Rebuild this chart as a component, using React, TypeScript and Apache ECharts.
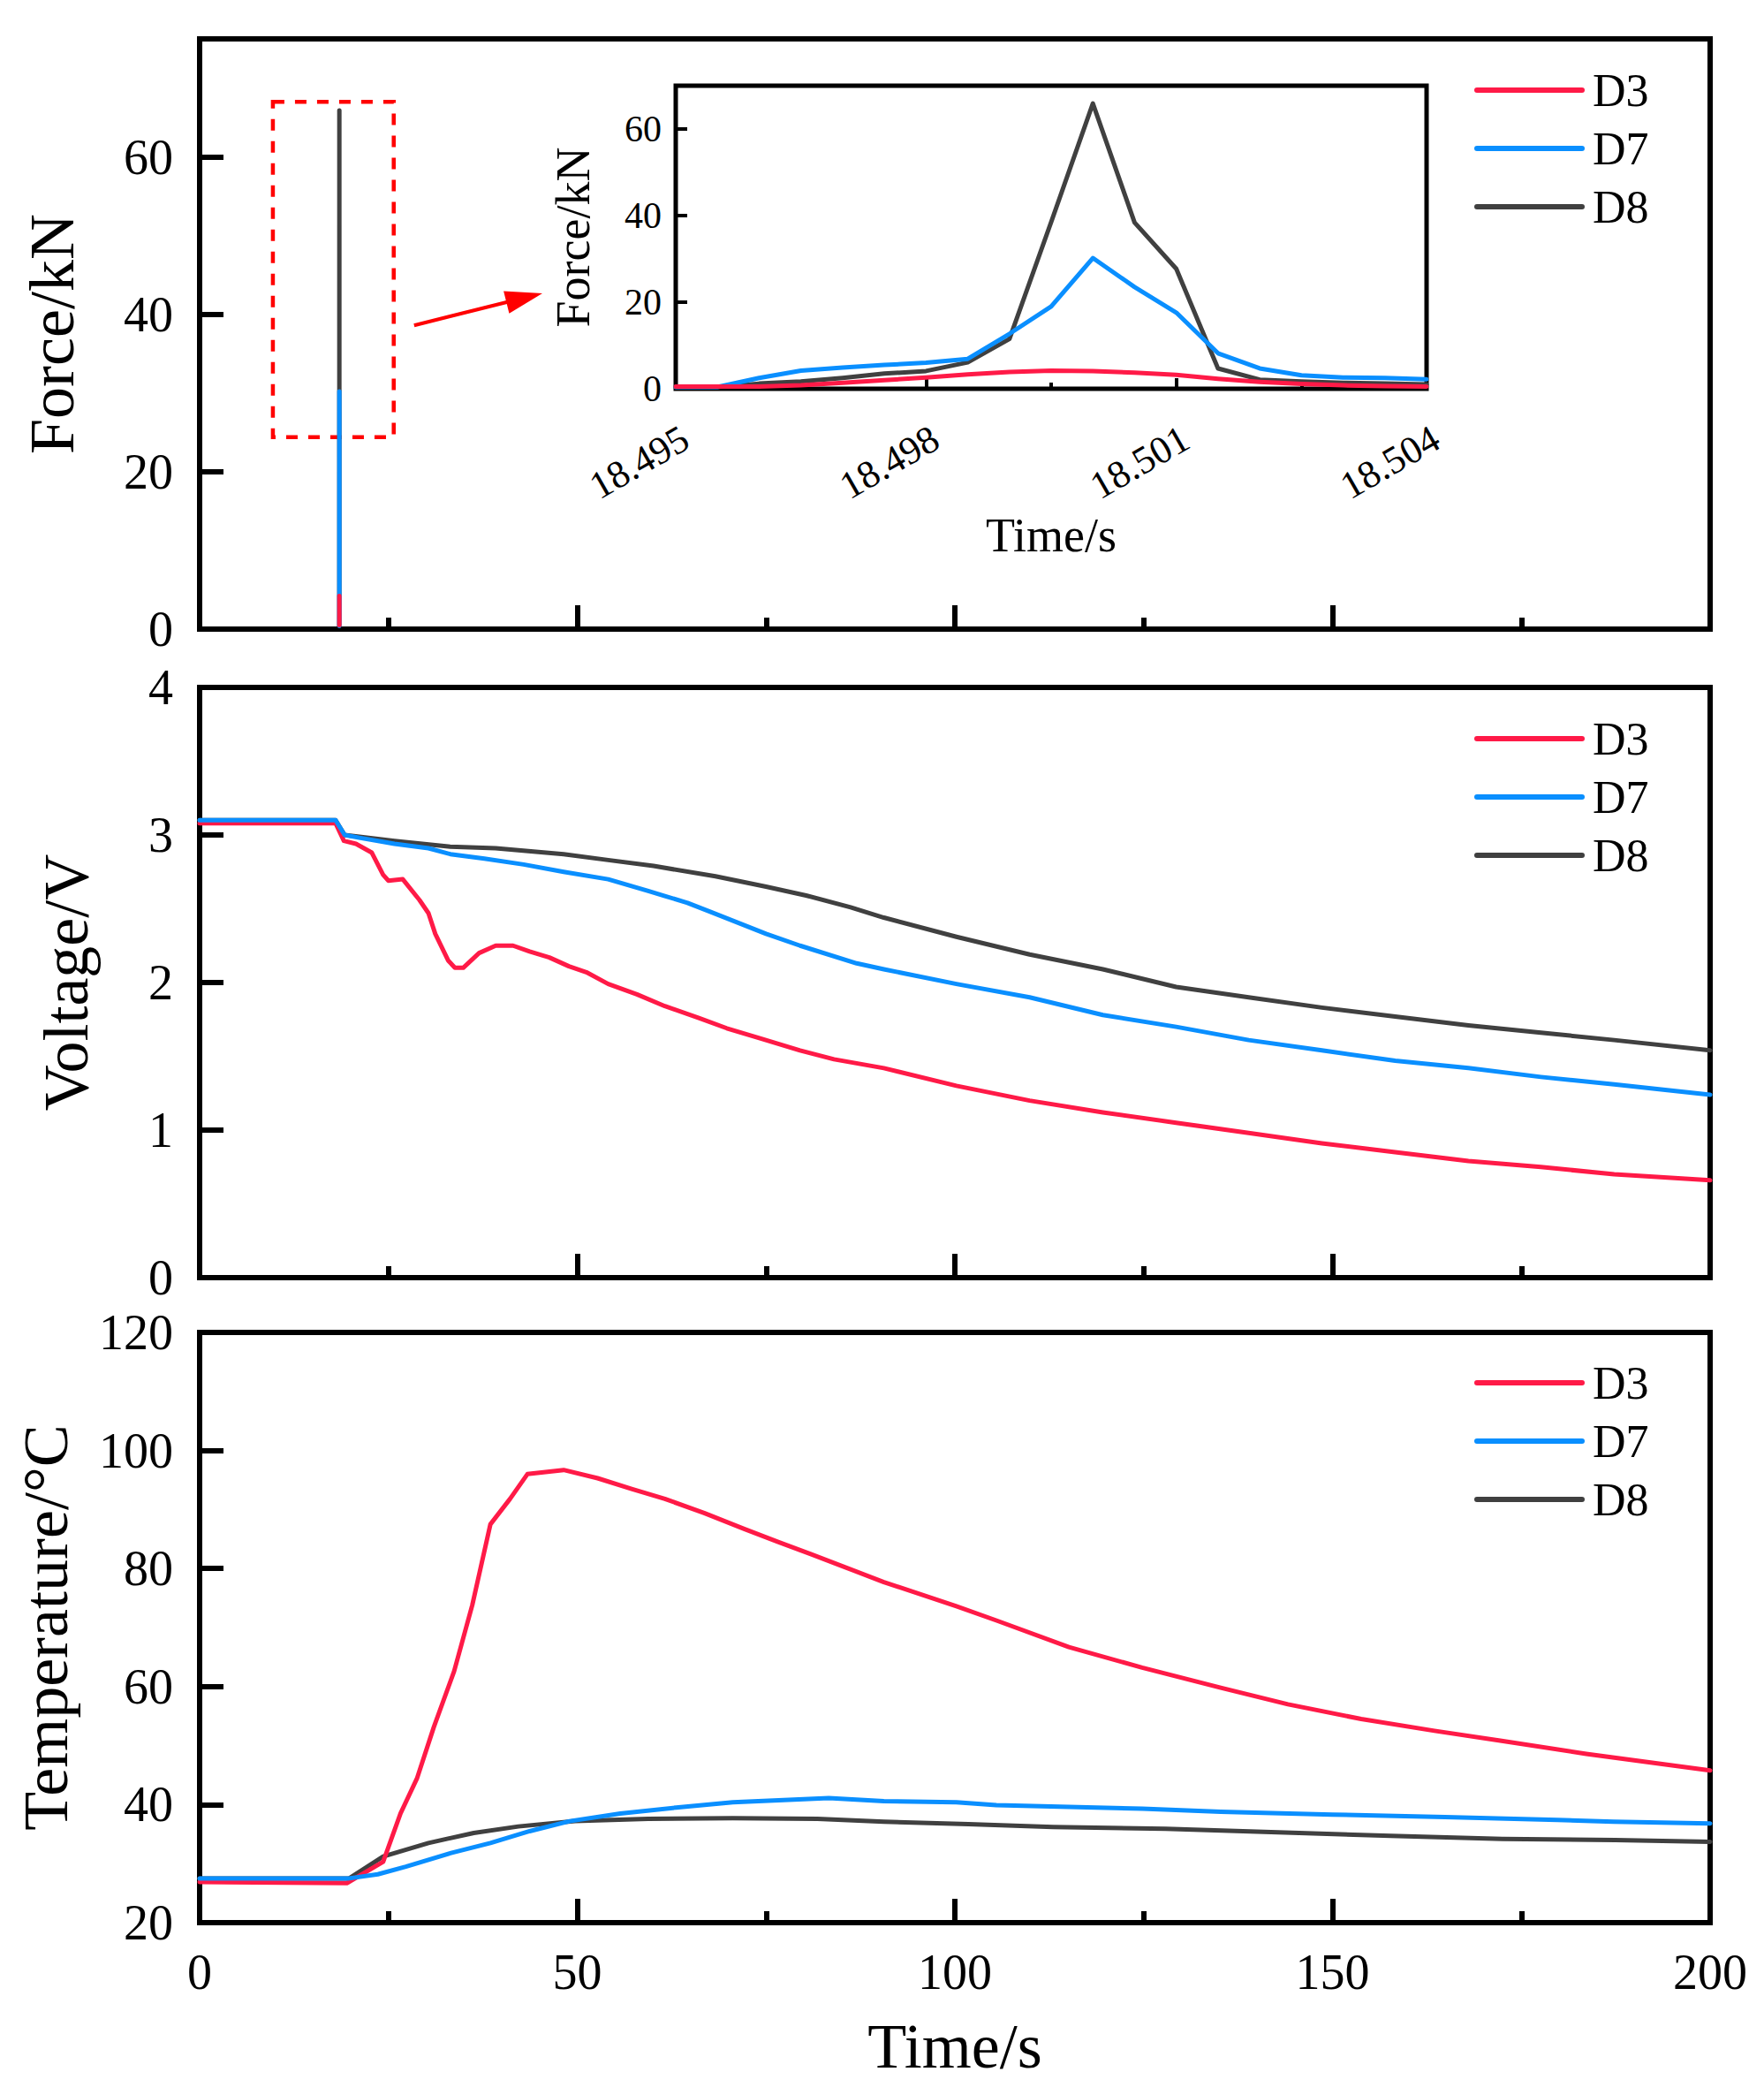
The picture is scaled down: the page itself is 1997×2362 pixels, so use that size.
import React, { useEffect, useRef } from "react";
import * as echarts from "echarts";

const FONT = "'Liberation Serif', 'Times New Roman', serif";
const NAMES = ["D3", "D7", "D8"];
const COLOR: Record<string, string> = { D3: "#FF1A47", D7: "#0A8FFF", D8: "#404040" };

// Impact force around the hit (s, kN)
const forceTime = [
  18.495, 18.4955, 18.496, 18.4965, 18.497, 18.4975, 18.498, 18.4985, 18.499, 18.4995,
  18.5, 18.5005, 18.501, 18.5015, 18.502, 18.5025, 18.503, 18.5035, 18.504,
];
const forceD3 = [0.5, 0.5, 0.5, 0.8, 1.4, 2.0, 2.6, 3.3, 3.9, 4.2, 4.1, 3.7, 3.2, 2.3, 1.6, 1.1, 0.8, 0.6, 0.5];
const forceD7 = [0.4, 0.4, 2.5, 4.2, 4.9, 5.5, 6.0, 6.9, 12.7, 19.0, 30.2, 23.5, 17.6, 8.2, 4.7, 3.1, 2.6, 2.5, 2.2];
const forceD8 = [0.4, 0.4, 1.2, 1.7, 2.5, 3.5, 4.1, 6.1, 11.5, 38.5, 65.9, 38.4, 27.7, 4.7, 2.1, 1.7, 1.4, 1.2, 1.0];

// Voltage (s, V)
const voltD3Time = [
  0, 18, 19.1, 20.7, 22.8, 24.3, 25.0, 26.9, 29.1, 30.3, 31.2, 32.9, 33.8, 34.9, 37.0, 39.2, 41.5,
  43.7, 46.3, 48.9, 51.2, 54.1, 57.9, 61.6, 66.1, 69.8, 74.3, 79.5, 84.0, 90.6, 100.2, 109.9, 119.6,
  129.3, 138.9, 148.6, 158.3, 168.0, 177.6, 187.3, 200,
];
const voltD3 = [
  3.08, 3.08, 2.96, 2.94, 2.88, 2.73, 2.69, 2.70, 2.56, 2.47, 2.33, 2.15, 2.10, 2.10, 2.20, 2.25, 2.25,
  2.21, 2.17, 2.11, 2.07, 1.99, 1.92, 1.84, 1.76, 1.69, 1.62, 1.54, 1.48, 1.42, 1.30, 1.20, 1.12,
  1.05, 0.98, 0.91, 0.85, 0.79, 0.75, 0.70, 0.66,
];
const voltD7Time = [
  0, 18.0, 19.2, 21.3, 25.8, 30.3, 33.2, 37.7, 42.9, 48.2, 54.1, 59.4, 64.6, 67.6, 75.0, 79.5, 87.0,
  90.6, 100.2, 109.9, 119.6, 129.3, 138.9, 148.6, 158.3, 168.0, 177.6, 187.3, 200,
];
const voltD7 = [
  3.10, 3.10, 3.00, 2.98, 2.94, 2.91, 2.87, 2.84, 2.80, 2.75, 2.70, 2.62, 2.54, 2.48, 2.33, 2.25, 2.13,
  2.09, 1.99, 1.90, 1.78, 1.70, 1.61, 1.54, 1.47, 1.42, 1.36, 1.31, 1.24,
];
const voltD8Time = [
  0, 18.0, 19.2, 25.8, 33.2, 39.2, 48.2, 54.1, 60.1, 68.3, 75.0, 80.3, 86.2, 90.6, 100.2, 109.9,
  119.6, 129.3, 138.9, 148.6, 158.3, 168.0, 177.6, 187.3, 200,
];
const voltD8 = [
  3.10, 3.10, 3.00, 2.96, 2.92, 2.91, 2.87, 2.83, 2.79, 2.72, 2.65, 2.59, 2.51, 2.44, 2.31, 2.19,
  2.09, 1.97, 1.90, 1.83, 1.77, 1.71, 1.66, 1.61, 1.54,
];

// Temperature (s, °C)
const tempD3Time = [
  0, 19.5, 24.3, 26.6, 28.8, 31.0, 33.7, 36.1, 38.5, 41.1, 43.4, 48.2, 52.7, 57.2, 61.6, 66.8, 72.1,
  76.6, 81.0, 85.5, 90.6, 100.2, 105.5, 115.1, 124.8, 135.2, 144.1, 153.8, 163.5, 172.4, 183.6, 200,
];
const tempD3 = [
  26.9, 26.7, 30.3, 38.5, 44.5, 53.1, 62.6, 73.8, 87.5, 91.8, 96.0, 96.7, 95.3, 93.5, 91.8, 89.4, 86.7,
  84.5, 82.4, 80.2, 77.7, 73.6, 71.2, 66.7, 63.2, 59.8, 57.0, 54.5, 52.5, 50.8, 48.6, 45.8,
];
const tempD7Time = [
  0, 19.8, 23.6, 27.3, 33.3, 38.5, 43.7, 49.0, 55.7, 63.1, 70.6, 78.0, 83.3, 90.6, 100.2, 105.5,
  115.1, 124.8, 135.2, 150, 164.9, 179.8, 187.2, 200,
];
const tempD7 = [
  27.5, 27.5, 28.2, 29.5, 31.8, 33.5, 35.5, 37.2, 38.5, 39.5, 40.4, 40.8, 41.1, 40.6, 40.4, 39.9,
  39.6, 39.3, 38.8, 38.3, 37.9, 37.4, 37.1, 36.8,
];
const tempD8Time = [
  0, 19.8, 24.3, 30.3, 36.3, 42.2, 49.7, 59.4, 70.6, 81.8, 90.6, 101.8, 113.0, 127.9, 142.8, 157.7,
  172.5, 187.4, 200,
];
const tempD8 = [
  27.5, 27.5, 31.2, 33.5, 35.2, 36.3, 37.2, 37.6, 37.7, 37.6, 37.1, 36.7, 36.2, 35.9, 35.3, 34.7,
  34.2, 34.0, 33.7,
];

// Zoom box and pointer arrow in the force panel (data units)
const zoomBox = [[9.7, 67.0], [25.7, 24.4]];
const arrowFrom = [28.4, 38.6];
const arrowTo = [43.0, 42.1];

const pairs = (xs: number[], ys: number[]) => xs.map((x, i) => [x, ys[i]]);

const textBase = { color: "#000", fontFamily: FONT };

function lineSeries(name: string, data: number[][], xAxisIndex: number, width = 5, extra: any = {}) {
  return {
    type: "line",
    name,
    xAxisIndex,
    yAxisIndex: xAxisIndex,
    data,
    symbol: "none",
    showSymbol: false,
    color: COLOR[name],
    lineStyle: { color: COLOR[name], width, cap: "round", join: "round" },
    emphasis: { disabled: true },
    animation: false,
    ...extra,
  };
}

function mainX(gridIndex: number, labels: boolean) {
  return {
    type: "value",
    gridIndex,
    min: 0,
    max: 200,
    interval: 50,
    axisLine: { show: false },
    axisTick: { show: true, inside: true, length: 27, lineStyle: { color: "#000", width: 6 } },
    minorTick: { show: true, splitNumber: 2, length: 13, lineStyle: { color: "#000", width: 6 } },
    splitLine: { show: false },
    minorSplitLine: { show: false },
    axisLabel: { show: labels, fontSize: 56, margin: 28, ...textBase },
    name: labels ? "Time/s" : "",
    nameLocation: "middle",
    nameGap: 104,
    nameTextStyle: { fontSize: 72, ...textBase },
  };
}

function mainY(gridIndex: number, min: number, max: number, interval: number, name: string, nameGap: number, showMax = true) {
  return {
    type: "value",
    gridIndex,
    min,
    max,
    interval,
    axisLine: { show: false },
    axisTick: { show: true, inside: true, length: 27, lineStyle: { color: "#000", width: 6 } },
    splitLine: { show: false },
    axisLabel: { fontSize: 56, margin: 30, showMaxLabel: showMax, ...textBase },
    name,
    nameLocation: "middle",
    nameGap,
    nameTextStyle: { fontSize: 72, ...textBase },
  };
}

function legendAt(top: number) {
  return {
    orient: "vertical",
    left: 1669,
    top,
    padding: 0,
    itemGap: 14,
    itemWidth: 125,
    itemHeight: 6,
    icon: "path://M3,0H122A3,3,0,0,1,122,6H3A3,3,0,0,1,3,0Z",
    itemStyle: { borderWidth: 0 },
    selectedMode: false,
    data: NAMES,
    textStyle: { fontSize: 52, lineHeight: 52, padding: [0, 0, 0, 4], ...textBase },
  };
}

export default function App() {
  const ref = useRef<HTMLDivElement>(null);

  useEffect(() => {
    if (!ref.current) return;
    const chart = echarts.init(ref.current, undefined, { renderer: "svg" });

    const frame = { show: true, borderColor: "#000", backgroundColor: "transparent" };

    const option: any = {
      animation: false,
      backgroundColor: "#fff",
      grid: [
        { ...frame, borderWidth: 6, left: 226, right: 61, top: 44, height: 668 },
        { ...frame, borderWidth: 6, left: 226, right: 61, top: 778, height: 668 },
        { ...frame, borderWidth: 6, left: 226, right: 61, top: 1508, height: 668 },
        { ...frame, borderWidth: 5, left: 765, width: 850, top: 97, height: 343 },
      ],
      legend: [legendAt(76), legendAt(810), legendAt(1539)],
      xAxis: [
        mainX(0, false),
        mainX(1, false),
        mainX(2, true),
        {
          type: "value",
          gridIndex: 3,
          min: 18.495,
          max: 18.504,
          interval: 0.003,
          axisLine: { show: false },
          axisTick: { show: true, inside: true, length: 12, lineStyle: { color: "#000", width: 4 } },
          minorTick: { show: true, splitNumber: 2, length: 7, lineStyle: { color: "#000", width: 4 } },
          splitLine: { show: false },
          minorSplitLine: { show: false },
          axisLabel: {
            fontSize: 44,
            rotate: 30,
            align: "right",
            verticalAlign: "top",
            margin: 34,
            formatter: (v: number) => v.toFixed(3),
            ...textBase,
          },
          name: "Time/s",
          nameLocation: "middle",
          nameGap: 139,
          nameTextStyle: { fontSize: 54, ...textBase },
        },
      ],
      yAxis: [
        mainY(0, 0, 75, 20, "Force/kN", 131, false),
        mainY(1, 0, 4, 1, "Voltage/V", 115),
        mainY(2, 20, 120, 20, "Temperature/°C", 138),
        {
          type: "value",
          gridIndex: 3,
          min: 0,
          max: 70,
          interval: 20,
          axisLine: { show: false },
          axisTick: { show: true, inside: true, length: 13, lineStyle: { color: "#000", width: 4 } },
          splitLine: { show: false },
          axisLabel: { fontSize: 42, margin: 16, showMaxLabel: false, ...textBase },
          name: "Force/kN",
          nameLocation: "middle",
          nameGap: 89,
          nameTextStyle: { fontSize: 54, ...textBase },
        },
      ],
      series: [
        // force, full time scale
        lineSeries("D8", pairs(forceTime, forceD8), 0, 5, {
          markArea: {
            silent: true,
            itemStyle: {
              color: "rgba(0,0,0,0)",
              borderColor: "#FF0000",
              borderWidth: 4.5,
              borderType: [13, 12],
            },
            data: [[{ coord: zoomBox[0] }, { coord: zoomBox[1] }]],
          },
          markLine: {
            silent: true,
            animation: false,
            symbol: ["none", "triangle"],
            label: { show: false },
            lineStyle: { color: "#FF0000", width: 4, type: "solid" },
            emphasis: { disabled: true },
            data: [[{ coord: arrowFrom }, { coord: arrowTo, symbol: "triangle", symbolSize: [26, 42] }]],
          },
        }),
        lineSeries("D7", pairs(forceTime, forceD7), 0),
        lineSeries("D3", pairs(forceTime, forceD3), 0),
        // force, zoomed inset
        lineSeries("D8", pairs(forceTime, forceD8), 3, 5),
        lineSeries("D7", pairs(forceTime, forceD7), 3, 5),
        lineSeries("D3", pairs(forceTime, forceD3), 3, 5),
        // voltage
        lineSeries("D8", pairs(voltD8Time, voltD8), 1),
        lineSeries("D3", pairs(voltD3Time, voltD3), 1),
        lineSeries("D7", pairs(voltD7Time, voltD7), 1),
        // temperature
        lineSeries("D8", pairs(tempD8Time, tempD8), 2),
        lineSeries("D3", pairs(tempD3Time, tempD3), 2),
        lineSeries("D7", pairs(tempD7Time, tempD7), 2),
      ],
    };

    chart.setOption(option);
    return () => chart.dispose();
  }, []);

  return (
    <div
      ref={ref}
      style={{ position: "absolute", left: 0, top: 0, width: 1997, height: 2362, background: "#fff" }}
    />
  );
}
